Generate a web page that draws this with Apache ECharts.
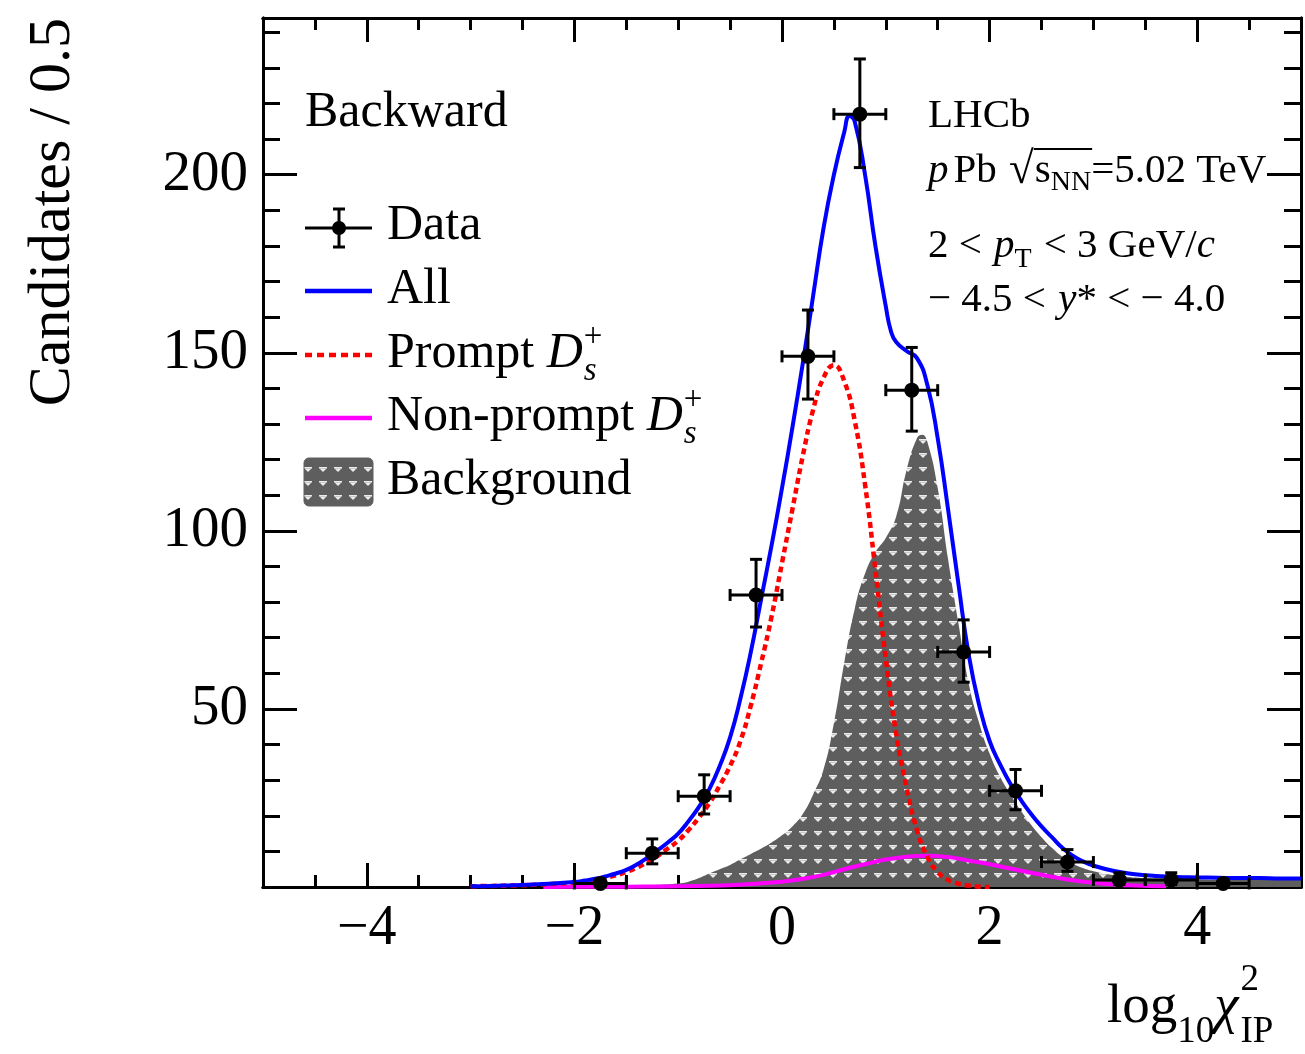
<!DOCTYPE html>
<html><head><meta charset="utf-8">
<script src="https://cdn.jsdelivr.net/npm/echarts@6/dist/echarts.min.js"></script>
<style>html,body{margin:0;padding:0;background:#fff}#c{width:1305px;height:1054px}</style>
</head><body><div id="c"></div>
<script>
// ---------- data ----------
const dataX    = [-1.75,-1.25,-0.75,-0.25,0.25,0.75,1.25,1.75,2.25,2.75,3.25,3.75,4.25];
const dataY    = [1,9.5,25.5,82,149,217,139.5,66,27,7,2,2,1];
const dataErrLo= [0.8,3,5,9,12,15,11.5,8.5,5.3,2.6,1.3,1.3,0.8];
const dataErrHi= [1.2,4,6,10,13,15.5,12,9,6,3.5,2,2,1.2];
const dataXErr = [0.25,0.25,0.25,0.25,0.25,0.25,0.25,0.25,0.25,0.25,0.25,0.25,0.25];

const allX = [-3.0,-2.8,-2.6,-2.4,-2.2,-2.0,-1.9,-1.8,-1.7,-1.6,-1.5,-1.4,-1.3,-1.2,-1.1,-1.0,-0.9,-0.8,-0.7,-0.6,-0.5,-0.4,-0.3,-0.2,-0.1,0.0,0.1,0.2,0.3,0.4,0.5,0.6,0.65,0.7,0.8,0.9,1.0,1.05,1.1,1.2,1.3,1.4,1.5,1.6,1.7,1.8,1.9,2.0,2.1,2.2,2.3,2.4,2.5,2.6,2.7,2.8,2.9,3.0,3.2,3.4,3.6,3.8,4.0,4.2,4.4,4.6,4.8,5.0];
const allY = [0.2,0.3,0.5,0.7,1.0,1.4,1.8,2.3,3.0,3.8,4.8,6.3,8.2,10.3,12.5,15,18.5,22.5,27.5,34,42,53,66,81,96,112,129,147,166,185,200,212,216.5,215,200,180,163,156,153,150.5,148.5,141,126,106,85,65,51,41,34.5,29,24.5,20.5,17,14,11,8.8,7.2,6.0,4.5,3.6,3.1,2.8,2.7,2.6,2.5,2.5,2.4,2.4];

const promptX = [-3.0,-2.8,-2.6,-2.4,-2.2,-2.0,-1.9,-1.8,-1.7,-1.6,-1.5,-1.4,-1.3,-1.2,-1.1,-1.0,-0.9,-0.8,-0.7,-0.6,-0.5,-0.4,-0.3,-0.2,-0.1,0.0,0.1,0.2,0.3,0.4,0.5,0.6,0.7,0.8,0.9,1.0,1.1,1.2,1.3,1.4,1.5,1.6,1.7,1.8,1.9,2.0];
const promptY = [0.2,0.3,0.4,0.6,0.9,1.2,1.5,2.0,2.6,3.3,4.2,5.4,7.0,8.7,10.8,13,16,19.5,23.5,28.5,34,41,51,63,76,91,106,121,134,143,146.5,142,131,113,89,64,43,28,16,8.5,4.2,2.0,0.9,0.4,0.1,0];

const nonPromptX = [-2.3,-2.0,-1.5,-1.0,-0.5,0.0,0.2,0.4,0.6,0.8,1.0,1.2,1.4,1.6,1.8,2.0,2.2,2.4,2.6,2.8,3.0,3.2,3.4,3.7];
const nonPromptY = [0,0.05,0.1,0.2,0.5,1.5,2.3,3.4,5.0,6.4,7.7,8.5,8.8,8.4,7.4,6.4,5.2,4.0,2.9,1.9,1.2,0.7,0.4,0.2];

const bkgX = [-1.8,-1.6,-1.4,-1.2,-1.0,-0.9,-0.8,-0.7,-0.6,-0.5,-0.4,-0.3,-0.2,-0.1,0.0,0.1,0.2,0.3,0.4,0.5,0.6,0.7,0.8,0.9,1.0,1.1,1.2,1.3,1.35,1.4,1.5,1.6,1.7,1.8,1.9,2.0,2.1,2.2,2.3,2.4,2.5,2.6,2.7,2.8,2.9,3.0,3.2,3.4,3.6,3.8,4.0,4.5,5.0];
const bkgY = [0,0.1,0.3,0.6,1.0,1.5,2.5,3.8,5.0,6.2,7.8,9.3,10.8,12.5,14.5,17,20.5,26,33,46,63,78,88,94,98,104,117,126,127,125,112,92,74,57,46,37.5,31,26,21.5,17.5,14,11,8.5,6.6,5.3,4.4,3.3,2.7,2.4,2.2,2.1,2.0,2.0];

const xMajorTicks = [-4,-2,0,2,4];
const xMinorTicks = [-4.5,-3.5,-3,-2.5,-1.5,-1,-0.5,0.5,1,1.5,2.5,3,3.5,4.5];
const yMajorTicks = [50,100,150,200];
const yMinorTicks = [10,20,30,40,60,70,80,90,110,120,130,140,160,170,180,190,210,220,230,240];
const xMin = -5, xMax = 5, yMin = 0, yMax = 244;

// ---------- helpers ----------
const FONT = '"Liberation Serif", "Times New Roman", serif';
const pairs = (xs, ys) => xs.map((x, i) => [x, ys[i]]);

function makePattern() {
  const c = document.createElement('canvas');
  c.width = 15; c.height = 14;
  const g = c.getContext('2d');
  g.fillStyle = '#5e5e5e'; g.fillRect(0, 0, 15, 14);
  g.fillStyle = '#ececec';
  g.fillRect(4, 5, 8, 1.5);
  g.beginPath(); g.moveTo(4.5, 6.5); g.lineTo(11.5, 6.5); g.lineTo(8, 10); g.closePath(); g.fill();
  return c;
}
const pat = makePattern();

const mctx = document.createElement('canvas').getContext('2d');
function tw(t, s, i) { mctx.font = (i ? 'italic ' : '') + s + 'px ' + FONT; return mctx.measureText(t).width; }
function txt(x, y, t, s, i, extra) {
  return Object.assign({type: 'text', x: x, y: y, z: 100,
    style: {text: t, fontSize: s, fontFamily: FONT, fontStyle: i ? 'italic' : 'normal', fill: '#000',
            align: 'left', verticalAlign: 'middle'}}, extra || {});
}
function run(x, y, frags) {
  const out = []; let cx = x;
  frags.forEach(f => {
    out.push(txt(cx, y + (f.dy || 0), f.t, f.s, f.i));
    if (!f.stack) cx += (f.w !== undefined ? f.w : tw(f.t, f.s, f.i)) + (f.gap || 0);
  });
  return {els: out, end: cx};
}

function xAxis(pos, vals, len, withLabels) {
  return {type: 'value', min: xMin, max: xMax, position: pos,
    axisLine: {show: true, onZero: false, lineStyle: {color: '#000', width: 3}},
    axisTick: {show: true, inside: true, length: len, customValues: vals, lineStyle: {color: '#000', width: 3}},
    axisLabel: withLabels ? {show: true, customValues: vals, margin: 14, fontSize: 56, fontFamily: FONT, color: '#000',
      formatter: v => (v < 0 ? '\u2212' + Math.abs(v) : String(v))} : {show: false},
    splitLine: {show: false}};
}
function yAxis(pos, vals, len, withLabels) {
  return {type: 'value', min: yMin, max: yMax, position: pos,
    axisLine: {show: true, onZero: false, lineStyle: {color: '#000', width: 3}},
    axisTick: {show: true, inside: true, length: len, customValues: vals, lineStyle: {color: '#000', width: 3}},
    axisLabel: withLabels ? {show: true, customValues: vals, margin: 15, fontSize: 57, fontFamily: FONT, color: '#000'} : {show: false},
    splitLine: {show: false}};
}

// ---------- graphics (texts, legend) ----------
const G = [];
G.push({type: 'text', x: 53, y: 18, rotation: Math.PI / 2, z: 100,
  style: {text: 'Candidates / 0.5', fontSize: 60, fontFamily: FONT, fill: '#000', align: 'right', verticalAlign: 'middle'}});
(function () {
  const r = run(1107, 1008, [
    {t: 'log', s: 55},
    {t: '10', s: 37, dy: 24},
    {t: '\u03c7', s: 55, i: true, gap: 2},
    {t: '2', s: 37, dy: -28, stack: true},
    {t: 'IP', s: 37, dy: 24}
  ]);
  G.push(...r.els);
})();
G.push(txt(305, 113, 'Backward', 50, false));
const LX0 = 305, LX1 = 372, LT = 387;
G.push({type: 'line', z: 100, shape: {x1: LX0, y1: 228, x2: LX1, y2: 228}, style: {stroke: '#000', lineWidth: 3}});
G.push({type: 'line', z: 100, shape: {x1: 339, y1: 209, x2: 339, y2: 247}, style: {stroke: '#000', lineWidth: 3}});
G.push({type: 'line', z: 100, shape: {x1: 333, y1: 209, x2: 345, y2: 209}, style: {stroke: '#000', lineWidth: 3}});
G.push({type: 'line', z: 100, shape: {x1: 333, y1: 247, x2: 345, y2: 247}, style: {stroke: '#000', lineWidth: 3}});
G.push({type: 'circle', z: 100, shape: {cx: 339, cy: 228, r: 7}, style: {fill: '#000'}});
G.push(txt(LT, 226, 'Data', 50));
G.push({type: 'line', z: 100, shape: {x1: LX0, y1: 291, x2: LX1, y2: 291}, style: {stroke: '#0000ff', lineWidth: 4.5}});
G.push(txt(LT, 290, 'All', 50));
G.push({type: 'line', z: 100, shape: {x1: LX0, y1: 355, x2: LX1, y2: 355}, style: {stroke: '#ff0000', lineWidth: 4.5, lineDash: [7, 5]}});
(function () {
  const r = run(LT, 354, [
    {t: 'Prompt ', s: 50},
    {t: 'D', s: 50, i: true, gap: 1},
    {t: '+', s: 33, dy: -17, stack: true},
    {t: 's', s: 33, i: true, dy: 17}
  ]);
  G.push(...r.els);
})();
G.push({type: 'line', z: 100, shape: {x1: LX0, y1: 418, x2: LX1, y2: 418}, style: {stroke: '#ff00ff', lineWidth: 4.5}});
(function () {
  const r = run(LT, 417, [
    {t: 'Non-prompt ', s: 50},
    {t: 'D', s: 50, i: true, gap: 1},
    {t: '+', s: 33, dy: -17, stack: true},
    {t: 's', s: 33, i: true, dy: 17}
  ]);
  G.push(...r.els);
})();
G.push({type: 'rect', z: 100, shape: {x: 304, y: 458, width: 69, height: 48, r: 5},
  style: {fill: {image: pat, repeat: 'repeat'}, stroke: '#5e5e5e', lineWidth: 1}});
G.push(txt(LT, 481, 'Background', 50));

const RX = 928, RS = 41;
G.push(txt(RX, 116, 'LHCb', RS));
(function () {
  const r = run(RX, 171, [
    {t: 'p', s: RS, i: true, gap: 5},
    {t: 'Pb ', s: RS, gap: 2},
    {t: '\u221a', s: RS + 4, gap: 1},
  ]);
  G.push(...r.els);
  const s0 = r.end;
  const r2 = run(s0, 171, [
    {t: 's', s: RS},
    {t: 'NN', s: 28, dy: 12},
    {t: '=5.02 TeV', s: RS}
  ]);
  G.push(...r2.els);
  const nnEnd = s0 + tw('s', RS) + tw('NN', 28);
  G.push({type: 'line', z: 100, shape: {x1: s0 - 1, y1: 149, x2: nnEnd + 1, y2: 149}, style: {stroke: '#000', lineWidth: 2}});
})();
(function () {
  const r = run(RX, 246, [
    {t: '2 < ', s: RS, gap: 2},
    {t: 'p', s: RS, i: true},
    {t: 'T', s: 28, dy: 14, gap: 12},
    {t: '< 3 GeV/', s: RS},
    {t: 'c', s: RS, i: true}
  ]);
  G.push(...r.els);
})();
(function () {
  const r = run(RX, 300, [
    {t: '\u2212 4.5 < ', s: RS, gap: 2},
    {t: 'y', s: RS, i: true},
    {t: '* < \u2212 4.0', s: RS}
  ]);
  G.push(...r.els);
})();

// ---------- chart ----------
const chart = echarts.init(document.getElementById('c'), null, {renderer: 'canvas'});
const errData = dataX.map((x, i) => [x, dataY[i], dataErrLo[i], dataErrHi[i], dataXErr[i]]);

chart.setOption({
  animation: false,
  backgroundColor: '#fff',
  grid: {left: 263, right: 4, top: 18, bottom: 167, containLabel: false},
  xAxis: [
    xAxis('bottom', xMajorTicks, 24, true),
    xAxis('bottom', xMinorTicks, 12, false),
    xAxis('top', xMajorTicks, 24, false),
    xAxis('top', xMinorTicks, 12, false)
  ],
  yAxis: [
    yAxis('left', yMajorTicks, 34, true),
    yAxis('left', yMinorTicks, 17, false),
    yAxis('right', yMajorTicks, 34, false),
    yAxis('right', yMinorTicks, 17, false)
  ],
  series: [
    {name: 'Background', type: 'line', data: pairs(bkgX, bkgY), smooth: 0.5,
      showSymbol: false, z: 1, lineStyle: {width: 0, color: '#5e5e5e'},
      areaStyle: {color: {image: pat, repeat: 'repeat'}, opacity: 1}},
    {name: 'Non-prompt', type: 'line', data: pairs(nonPromptX, nonPromptY), smooth: 0.5,
      showSymbol: false, z: 3, lineStyle: {width: 4, color: '#ff00ff'}},
    {name: 'Prompt', type: 'line', data: pairs(promptX, promptY), smooth: 0.5,
      showSymbol: false, z: 4, lineStyle: {width: 4.5, color: '#ff0000', type: [6, 4]}},
    {name: 'All', type: 'line', data: pairs(allX, allY), smooth: 0.5,
      showSymbol: false, z: 5, lineStyle: {width: 4, color: '#0000ff'}},
    {name: 'Data', type: 'custom', z: 10, data: errData, clip: false,
      renderItem: function (params, api) {
        const x = api.value(0), y = api.value(1), lo = api.value(2), hi = api.value(3), xe = api.value(4);
        const c = api.coord([x, y]);
        const top = api.coord([x, y + hi]);
        const bot = api.coord([x, Math.max(0, y - lo)]);
        const l = api.coord([x - xe, y]), r = api.coord([x + xe, y]);
        const st = {stroke: '#000', lineWidth: 3};
        const cap = 6;
        return {type: 'group', children: [
          {type: 'line', shape: {x1: c[0], y1: top[1], x2: c[0], y2: bot[1]}, style: st},
          {type: 'line', shape: {x1: c[0] - cap, y1: top[1], x2: c[0] + cap, y2: top[1]}, style: st},
          {type: 'line', shape: {x1: c[0] - cap, y1: bot[1], x2: c[0] + cap, y2: bot[1]}, style: st},
          {type: 'line', shape: {x1: l[0], y1: c[1], x2: r[0], y2: c[1]}, style: st},
          {type: 'line', shape: {x1: l[0], y1: c[1] - cap, x2: l[0], y2: c[1] + cap}, style: st},
          {type: 'line', shape: {x1: r[0], y1: c[1] - cap, x2: r[0], y2: c[1] + cap}, style: st},
          {type: 'circle', shape: {cx: c[0], cy: c[1], r: 7.5}, style: {fill: '#000'}}
        ]};
      }}
  ],
  graphic: G
});
</script>
</body></html>
